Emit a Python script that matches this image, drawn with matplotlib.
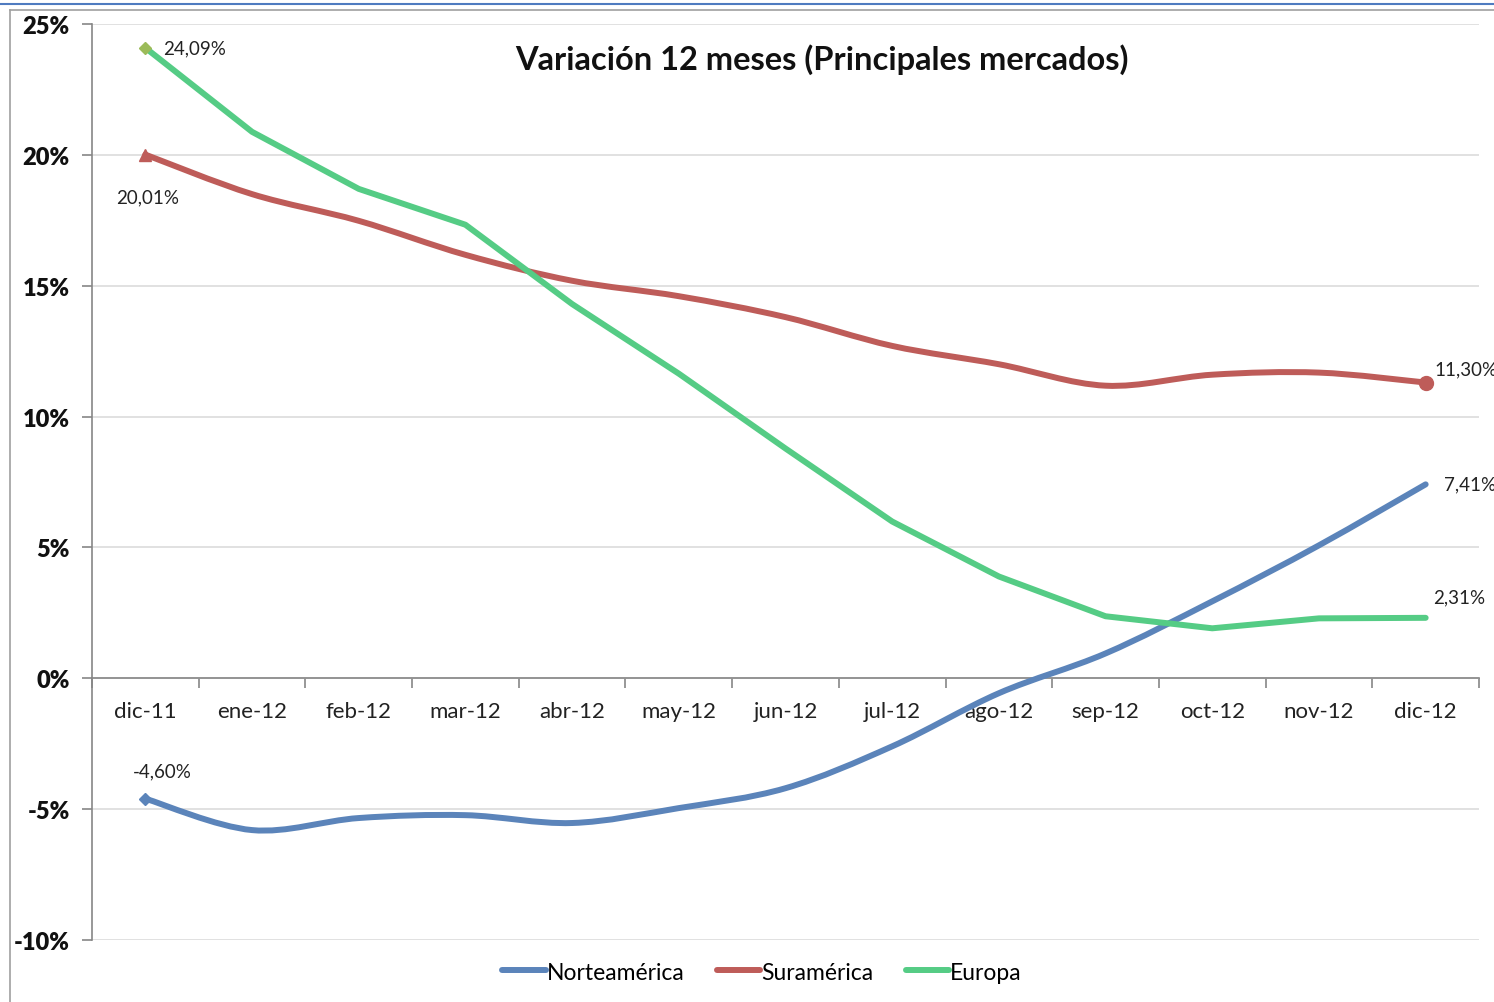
import numpy as np
import matplotlib
matplotlib.use("Agg")
import matplotlib.pyplot as plt
from matplotlib.path import Path
from matplotlib.patches import PathPatch
from matplotlib.lines import Line2D

plt.rcParams['font.family'] = ['Lato', 'DejaVu Sans']

categories = ["dic-11", "ene-12", "feb-12", "mar-12", "abr-12", "may-12", "jun-12",
              "jul-12", "ago-12", "sep-12", "oct-12", "nov-12", "dic-12"]
norteamerica = [-4.60, -5.80, -5.34, -5.23, -5.53, -4.96, -4.20, -2.60, -0.57, 0.95, 2.94, 5.08, 7.41]
suramerica = [20.01, 18.50, 17.48, 16.18, 15.19, 14.60, 13.80, 12.70, 12.00, 11.18, 11.60, 11.68, 11.30]
europa = [24.09, 20.88, 18.70, 17.33, 14.30, 11.64, 8.78, 5.99, 3.89, 2.37, 1.91, 2.29, 2.31]
yticks = [-10, -5, 0, 5, 10, 15, 20, 25]
title = "Variación 12 meses (Principales mercados)"

c_blue = '#5B84BA'
c_red = '#BE5C59'
c_green = '#55CC85'
lw = 4.3

W, H = 1494, 1003
fig = plt.figure(figsize=(W / 100, H / 100), dpi=100)

# Outer decorations (Excel chart frame)
fig.add_artist(Line2D([0, 1], [1 - 5 / H, 1 - 5 / H], color='#4F7BC0', lw=1.5, transform=fig.transFigure))
fig.add_artist(Line2D([10 / W, 1], [1 - 11 / H, 1 - 11 / H], color='#A0A0A0', lw=1.2, transform=fig.transFigure))
fig.add_artist(Line2D([10 / W, 10 / W], [0, 1 - 11 / H], color='#A0A0A0', lw=1.2, transform=fig.transFigure))

ax = fig.add_axes([92 / W, (H - 941) / H, (1479 - 92) / W, (941 - 25) / H])
x = np.arange(len(categories))


def smooth_path(xs, ys):
    pts = np.column_stack([xs, ys]).astype(float)
    n = len(pts)
    verts = [pts[0]]
    codes = [Path.MOVETO]
    for i in range(n - 1):
        p0 = pts[i - 1] if i > 0 else pts[i]
        p1 = pts[i]
        p2 = pts[i + 1]
        p3 = pts[i + 2] if i + 2 < n else pts[i + 1]
        c1 = p1 + (p2 - p0) / 6.0
        c2 = p2 - (p3 - p1) / 6.0
        verts += [c1, c2, p2]
        codes += [Path.CURVE4] * 3
    return Path(verts, codes)


ax.add_patch(PathPatch(smooth_path(x, norteamerica), facecolor='none', edgecolor=c_blue,
                       lw=lw, capstyle='round', joinstyle='round', zorder=3))
ax.add_patch(PathPatch(smooth_path(x, suramerica), facecolor='none', edgecolor=c_red,
                       lw=lw, capstyle='round', joinstyle='round', zorder=3))
ax.plot(x, europa, color=c_green, lw=lw, solid_capstyle='round', solid_joinstyle='round', zorder=3)

# end markers
ax.plot(x[0], norteamerica[0], marker='D', ms=6, color=c_blue, zorder=4)
ax.plot(x[0], suramerica[0], marker='^', ms=9, color=c_red, zorder=4)
ax.plot(x[-1], suramerica[-1], marker='o', ms=10, color=c_red, zorder=4)
ax.plot(x[0], europa[0], marker='D', ms=6, color='#9BBB59', zorder=4)


def fmt(v):
    return ("%.2f%%" % v).replace('.', ',')


lab_kw = dict(textcoords='offset pixels', fontsize=13.5, color='#222222', annotation_clip=False)
ax.annotate(fmt(europa[0]), (x[0], europa[0]), xytext=(18, 0), ha='left', va='center', **lab_kw)
ax.annotate(fmt(suramerica[0]), (x[0], suramerica[0]), xytext=(2, -42), ha='center', va='center', **lab_kw)
ax.annotate(fmt(norteamerica[0]), (x[0], norteamerica[0]), xytext=(17, 28), ha='center', va='center', **lab_kw)
ax.annotate(fmt(suramerica[-1]), (x[-1], suramerica[-1]), xytext=(9, 14), ha='left', va='center', **lab_kw)
ax.annotate(fmt(norteamerica[-1]), (x[-1], norteamerica[-1]), xytext=(18, 0), ha='left', va='center', **lab_kw)
ax.annotate(fmt(europa[-1]), (x[-1], europa[-1]), xytext=(7, 21), ha='left', va='center', **lab_kw)

ax.set_xlim(-0.5, len(categories) - 0.5)
ax.set_ylim(-10, 25)

for s in ['top', 'right']:
    ax.spines[s].set_visible(False)
ax.spines['left'].set_color('#868686')
ax.spines['bottom'].set_color('#868686')
ax.spines['bottom'].set_position(('data', 0))
ax.spines['left'].set_linewidth(1.2)
ax.spines['bottom'].set_linewidth(1.2)

ax.set_yticks(yticks)
ax.set_yticklabels(["%d%%" % v for v in yticks], fontsize=17, fontweight='heavy', color='#111111')
ax.tick_params(axis='y', length=7, width=1.2, color='#868686', pad=9)
ax.yaxis.grid(True, color='#DCDCDC', lw=1.2)
ax.set_axisbelow(True)

ax.set_xticks(np.arange(-0.5, len(categories)), minor=False)
ax.set_xticklabels([])
ax.set_xticks(x, minor=True)
ax.set_xticklabels(categories, minor=True, fontsize=16, color='#222222')
ax.tick_params(axis='x', which='major', length=7, width=1.2, color='#868686', direction='out')
ax.tick_params(axis='x', which='minor', length=0, pad=16)

fig.text(822 / W, 1 - 60 / H, title, ha='center', va='center', fontsize=23.5, fontweight='bold', color='#111111')

handles = [Line2D([], [], color=c_blue, lw=lw, solid_capstyle='round'),
           Line2D([], [], color=c_red, lw=lw, solid_capstyle='round'),
           Line2D([], [], color=c_green, lw=lw, solid_capstyle='round')]
fig.legend(handles, ["Norteamérica", "Suramérica", "Europa"], loc='center',
           bbox_to_anchor=(762 / W, 1 - 973 / H), ncol=3, frameon=False, fontsize=16.5,
           handlelength=1.9, handletextpad=0.05, columnspacing=1.4)

fig.savefig("out.png", dpi=100, facecolor='white')
